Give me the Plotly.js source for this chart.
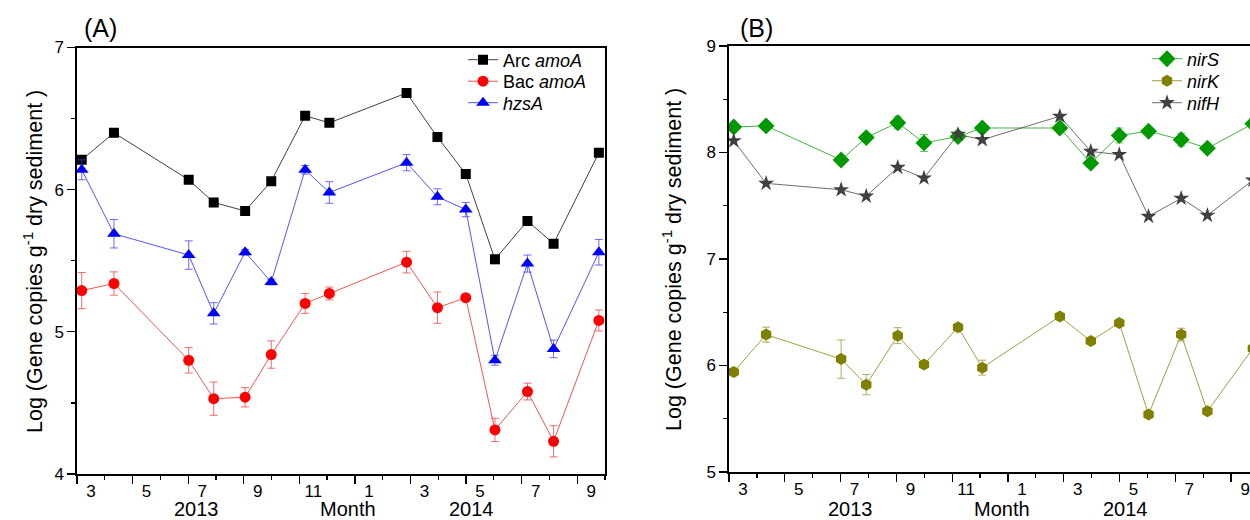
<!DOCTYPE html>
<html>
<head>
<meta charset="utf-8">
<script src="https://cdn.plot.ly/plotly-3.0.1.min.js"></script>
<style>
html,body{margin:0;padding:0;overflow:hidden;background:#fff;}
#chart{width:1260px;height:520px;}
</style>
</head>
<body>
<div id="chart"></div>
<script>
// Sampling months (3 = start of March 2013, 13 = start of Jan 2014, 21 = start of Sep 2014)
const months = [3.17, 4.33, 7.02, 7.92, 9.05, 9.99, 11.21, 12.08, 14.86, 15.97, 16.99, 18.04, 19.21, 20.15, 21.78];

// Panel A
const arcAmoA    = [6.21, 6.40, 6.07, 5.91, 5.85, 6.06, 6.52, 6.47, 6.68, 6.37, 6.11, 5.51, 5.78, 5.62, 6.26];
const bacAmoA    = [5.29, 5.34, 4.80, 4.53, 4.54, 4.84, 5.20, 5.27, 5.49, 5.17, 5.24, 4.31, 4.58, 4.23, 5.08];
const bacAmoAErr = [0.127, 0.082, 0.09, 0.117, 0.068, 0.096, 0.07, 0.045, 0.076, 0.11, 0.01, 0.082, 0.059, 0.11, 0.074];
const hzsA       = [6.14, 5.69, 5.54, 5.13, 5.56, 5.35, 6.14, 5.98, 6.19, 5.95, 5.86, 4.80, 5.48, 4.88, 5.56];
const hzsAErr    = [0.07, 0.10, 0.10, 0.075, 0.02, 0.02, 0.03, 0.076, 0.057, 0.056, 0.05, 0.035, 0.06, 0.062, 0.09];

// Panel B
const nirS    = [8.24, 8.25, 7.93, 8.14, 8.28, 8.09, 8.15, 8.23, 8.23, 7.90, 8.16, 8.20, 8.12, 8.04, 8.27];
const nirSErr = [0.03, 0.03, 0.02, 0.04, 0.06, 0.08, 0.03, 0.03, 0.02, 0.03, 0.07, 0.02, 0.06, 0.02, 0.05];
const nirK    = [5.94, 6.29, 6.06, 5.82, 6.28, 6.01, 6.36, 5.98, 6.46, 6.23, 6.40, 5.54, 6.29, 5.57, 6.16];
const nirKErr = [0.02, 0.07, 0.18, 0.095, 0.075, 0.02, 0.02, 0.07, 0.02, 0.02, 0.02, 0.02, 0.06, 0.02, 0.02];
const nifH    = [8.11, 7.71, 7.65, 7.59, 7.86, 7.76, 8.17, 8.12, 8.34, 8.01, 7.98, 7.40, 7.57, 7.41, 7.74];

// Axis ticks
const majorMonthTicks = [3, 5, 7, 9, 11, 13, 15, 17, 19, 21];
const monthTickText   = ['3', '5', '7', '9', '11', '1', '3', '5', '7', '9'];
const minorMonthTicks = [4, 6, 8, 10, 12, 14, 16, 18, 20, 22];

const FONT = 'Liberation Sans, Arial, Helvetica, sans-serif';
const W = 1260, H = 520;
const px = v => v / W;
const py = v => 1 - v / H;

function errY(arr, color) {
  return {type: 'data', array: arr, visible: true, color: color, thickness: 1, width: 4};
}

const traces = [
  {x: months, y: arcAmoA, name: 'Arc <i>amoA</i>', mode: 'lines+markers', xaxis: 'x', yaxis: 'y', legend: 'legend',
   line: {color: 'rgba(0,0,0,0.75)', width: 1}, marker: {symbol: 'square', size: 10, color: '#000000'}},
  {x: months, y: bacAmoA, name: 'Bac <i>amoA</i>', mode: 'lines+markers', xaxis: 'x', yaxis: 'y', legend: 'legend2',
   line: {color: 'rgba(240,40,40,0.8)', width: 1}, marker: {symbol: 'circle', size: 11, color: '#ff0000'},
   error_y: errY(bacAmoAErr, 'rgba(240,60,60,0.75)')},
  {x: months, y: hzsA, name: '<i>hzsA</i>', mode: 'lines+markers', xaxis: 'x', yaxis: 'y', legend: 'legend3',
   line: {color: 'rgba(40,40,255,0.8)', width: 1}, marker: {symbol: 'triangle-up', size: 12, color: '#0000ff'},
   error_y: errY(hzsAErr, 'rgba(60,60,255,0.75)')},
  {x: months, y: nirS, name: '<i>nirS</i>', mode: 'lines+markers', xaxis: 'x2', yaxis: 'y2', legend: 'legend4',
   line: {color: 'rgba(20,160,20,0.8)', width: 1}, marker: {symbol: 'diamond', size: 13, color: '#009900'},
   error_y: errY(nirSErr, 'rgba(40,170,40,0.7)')},
  {x: months, y: nirK, name: '<i>nirK</i>', mode: 'lines+markers', xaxis: 'x2', yaxis: 'y2', legend: 'legend5',
   line: {color: 'rgba(128,128,0,0.75)', width: 1}, marker: {symbol: 'hexagon', size: 12, color: '#808000'},
   error_y: errY(nirKErr, 'rgba(140,140,30,0.7)')},
  {x: months, y: nifH, name: '<i>nifH</i>', mode: 'lines+markers', xaxis: 'x2', yaxis: 'y2', legend: 'legend6',
   line: {color: 'rgba(60,60,60,0.75)', width: 1}, marker: {symbol: 'star', size: 12, color: '#404040'}}
];

function xAxis(domain, anchor) {
  return {
    domain: domain, anchor: anchor, range: [3, 22], autorange: false,
    tickmode: 'array', tickvals: majorMonthTicks, ticktext: monthTickText,
    ticks: 'outside', ticklen: 8, tickwidth: 1.3, tickcolor: '#000',
    ticklabelshift: 14, ticklabelstandoff: -7,
    minor: {tickmode: 'array', tickvals: minorMonthTicks, ticks: 'outside', ticklen: 4, tickwidth: 1.3, tickcolor: '#000', showgrid: false},
    showline: true, mirror: true, linecolor: '#000', linewidth: 1.6,
    showgrid: false, zeroline: false, automargin: false,
    tickfont: {family: FONT, size: 17, color: '#000'}
  };
}
function yAxis(domain, anchor, range) {
  return {
    domain: domain, anchor: anchor, range: range, autorange: false,
    tickmode: 'linear', tick0: 0, dtick: 1,
    ticks: 'outside', ticklen: 8, tickwidth: 1.3, tickcolor: '#000',
    minor: {dtick: 0.5, ticks: 'outside', ticklen: 4, tickwidth: 1.3, tickcolor: '#000', showgrid: false},
    showline: true, mirror: true, linecolor: '#000', linewidth: 1.6,
    showgrid: false, zeroline: false, automargin: false,
    tickfont: {family: FONT, size: 17, color: '#000'}
  };
}

function leg(x, y) {
  return {x: px(x), y: py(y), xanchor: 'left', yanchor: 'middle', bgcolor: 'rgba(0,0,0,0)', borderwidth: 0,
          font: {family: FONT, size: 18, color: '#000'}, tracegroupgap: 0};
}

const ytitle = 'Log (Gene copies g<sup>-1</sup> dry sediment )';
const ann = (text, x, y, size, extra) => Object.assign({
  text: text, xref: 'paper', yref: 'paper', x: px(x), y: py(y),
  xanchor: 'center', yanchor: 'middle', showarrow: false,
  font: {family: FONT, size: size, color: '#000'}
}, extra || {});

const layout = {
  width: W, height: H,
  margin: {l: 0, r: 0, t: 0, b: 0},
  paper_bgcolor: '#fff', plot_bgcolor: '#fff',
  font: {family: FONT, color: '#000'},
  xaxis:  xAxis([px(77), px(605)], 'y'),
  yaxis:  yAxis([py(474), py(47.5)], 'x', [4, 7]),
  xaxis2: xAxis([px(729), px(1259)], 'y2'),
  yaxis2: yAxis([py(472), py(46)], 'x2', [5, 9]),
  showlegend: true,
  legend:  leg(463, 60),
  legend2: leg(463, 81.5),
  legend3: leg(463, 103),
  legend4: leg(1147, 59),
  legend5: leg(1147, 81),
  legend6: leg(1147, 103),
  annotations: [
    ann('(A)', 100, 28, 25),
    ann('(B)', 756, 28, 25),
    ann('2013', 196, 509, 20),
    ann('Month', 348, 509, 20),
    ann('2014', 471, 509, 20),
    ann('2013', 850, 509, 20),
    ann('Month', 1002, 509, 20),
    ann('2014', 1125, 509, 20),
    ann(ytitle, 33, 262, 21.5, {textangle: -90}),
    ann(ytitle, 672, 260, 21.5, {textangle: -90})
  ]
};

Plotly.newPlot('chart', traces, layout, {displayModeBar: false, staticPlot: true});
</script>
</body>
</html>
